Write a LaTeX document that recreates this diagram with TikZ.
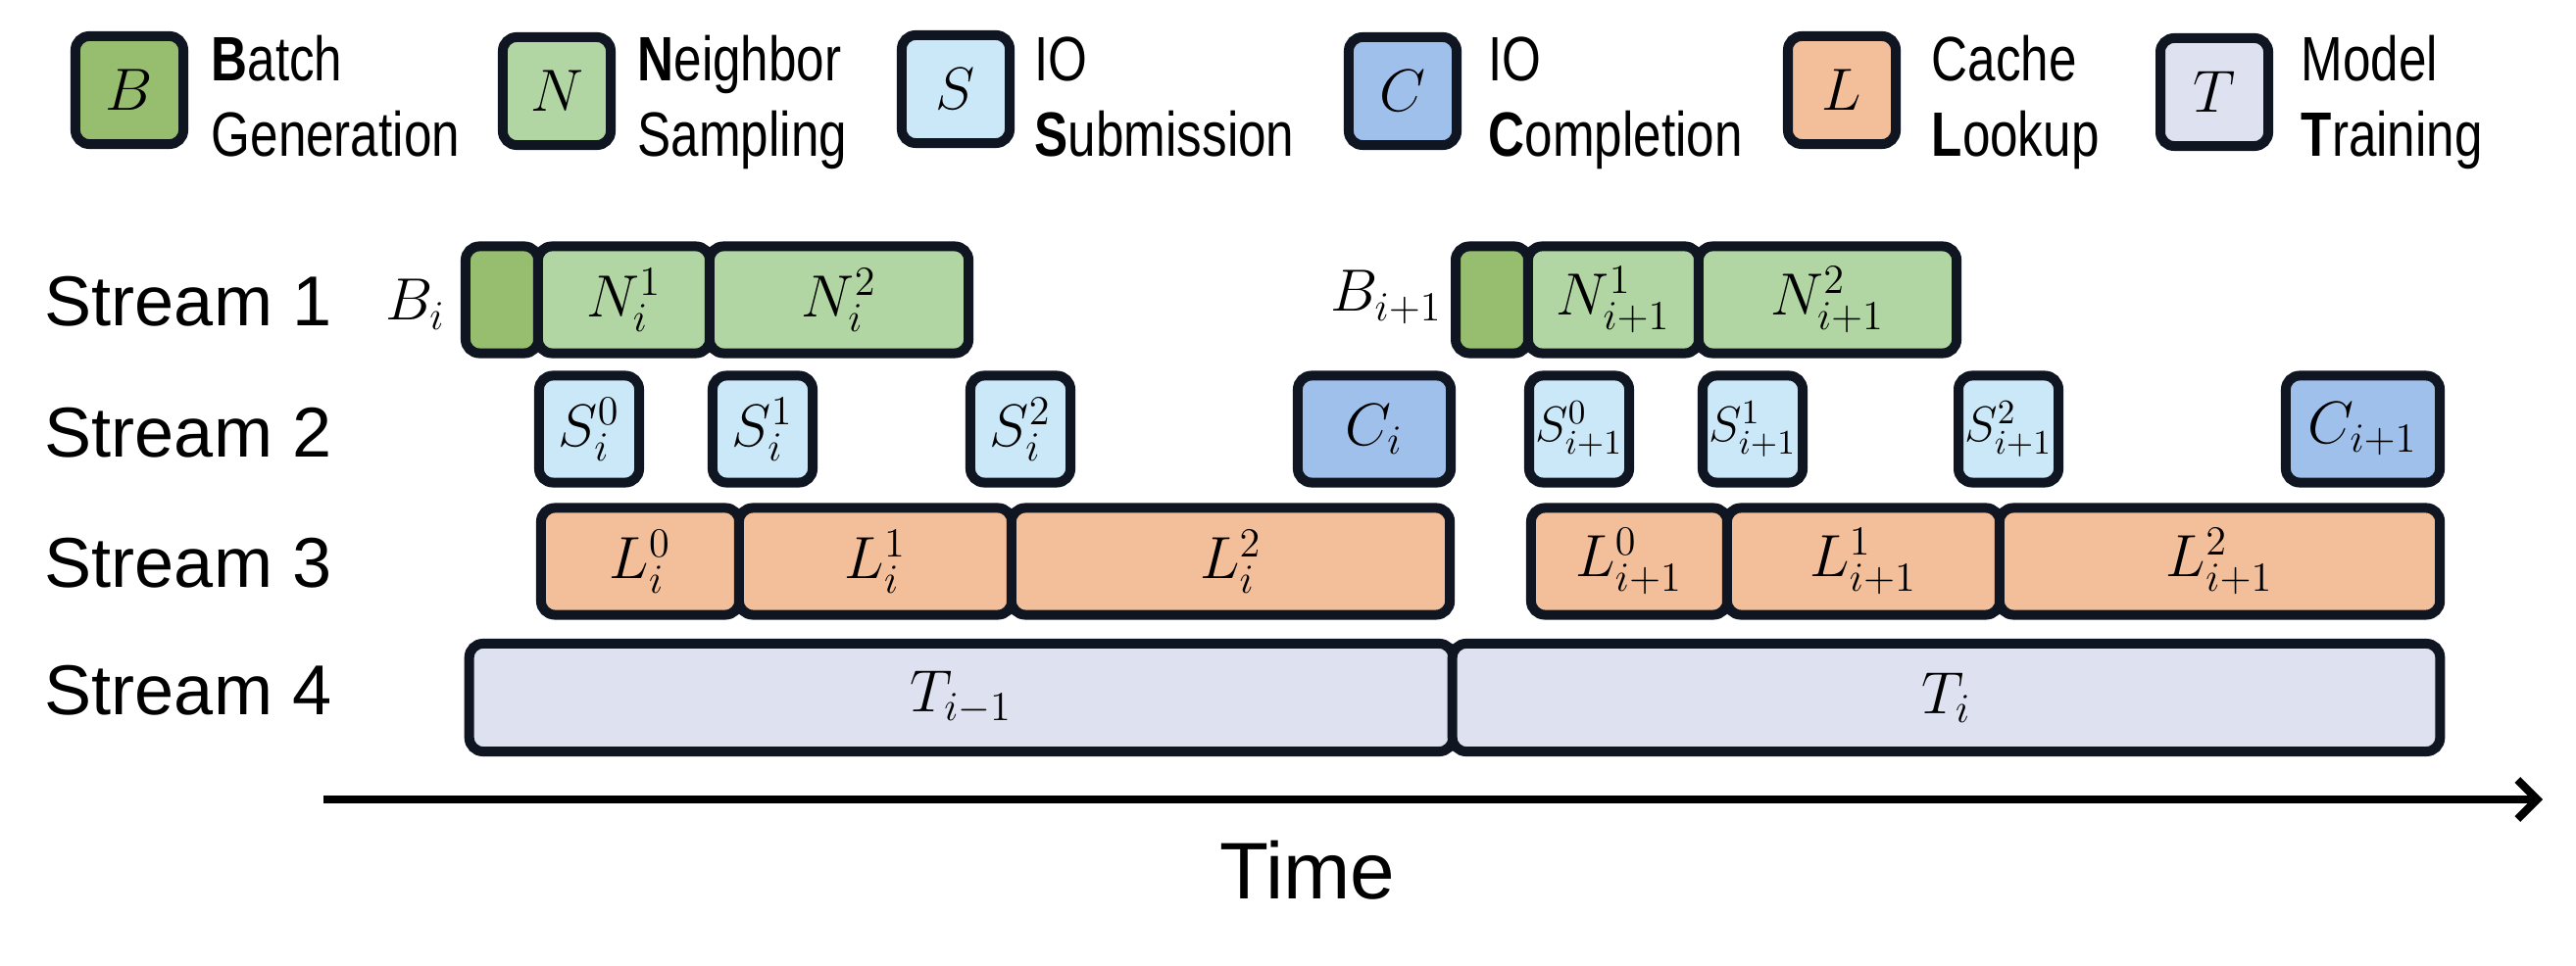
\documentclass[tikz,border=0pt]{standalone}
\usepackage{fontspec}
\setmainfont{Liberation Sans}
\newfontfamily\legendfont{Liberation Sans}[FakeStretch=0.8]
\usepackage{tikz}
\usetikzlibrary{arrows.meta}
\definecolor{edge}{RGB}{16,21,34}
\definecolor{bfill}{RGB}{151,189,110}
\definecolor{nfill}{RGB}{177,214,164}
\definecolor{sfill}{RGB}{203,232,249}
\definecolor{cfill}{RGB}{160,192,236}
\definecolor{lfill}{RGB}{243,190,154}
\definecolor{tfill}{RGB}{222,225,240}

\begin{document}
\begin{tikzpicture}[x=0.01cm,y=-0.01cm,
	task/.style={draw=edge,line width=0.1cm,rounded corners=0.14cm,inner sep=0pt,minimum height=1.09cm,font=\fontsize{17.6pt}{20pt}\selectfont},
	narrow/.style={task,fill=sfill,minimum width=1.02cm,font=\fontsize{13.8pt}{16pt}\selectfont},
	key/.style={task,minimum width=1.1cm,minimum height=1.1cm,font=\fontsize{16.5pt}{20pt}\selectfont},
	keytext/.style={anchor=base west,inner sep=0pt,font=\legendfont\fontsize{18.2pt}{22pt}\selectfont},
	stream/.style={anchor=base west,inner sep=0pt,font=\fontsize{20.5pt}{24pt}\selectfont},
	tag/.style={anchor=base east,inner sep=0pt,font=\fontsize{17.6pt}{20pt}\selectfont}]
	\useasboundingbox (0,0) rectangle (2628,986);

	\node[key,fill=bfill] at (132,92) (kb) {$B$};
	\node[keytext] at (215,83) (kb1) {\textbf{B}atch};
	\node[keytext] at (215,160) (kb2) {Generation};
	\node[key,fill=nfill] at (568,93) (kn) {$N$};
	\node[keytext] at (650,83) (kn1) {\textbf{N}eighbor};
	\node[keytext] at (650,160) (kn2) {Sampling};
	\node[key,fill=sfill] at (975,91) (ks) {$S$};
	\node[keytext] at (1055,83) (ks1) {IO};
	\node[keytext] at (1055,160) (ks2) {\textbf{S}ubmission};
	\node[key,fill=cfill] at (1431,93) (kc) {$C$};
	\node[keytext] at (1518,83) (kc1) {IO};
	\node[keytext] at (1518,160) (kc2) {\textbf{C}ompletion};
	\node[key,fill=lfill] at (1879,92) (kl) {$L$};
	\node[keytext] at (1970,83) (kl1) {Cache};
	\node[keytext] at (1970,160) (kl2) {\textbf{L}ookup};
	\node[key,fill=tfill] at (2259,94) (kt) {$T$};
	\node[keytext] at (2347,83) (kt1) {Model};
	\node[keytext] at (2347,160) (kt2) {\textbf{T}raining};

	\node[stream] at (45,333) (st1) {Stream 1};
	\node[stream] at (45,467) (st2) {Stream 2};
	\node[stream] at (45,600) (st3) {Stream 3};
	\node[stream] at (45,730) (st4) {Stream 4};

	\node[tag] at (455,327) (bilab) {$B_i$};
	\node[task,fill=bfill,minimum width=0.74cm] at (512,306) (bi) {};
	\node[task,fill=nfill,minimum width=1.75cm] at (636.5,306) (ni1) {$N_i^1$};
	\node[task,fill=nfill,minimum width=2.64cm] at (856,306) (ni2) {$N_i^2$};
	\node[tag] at (1472,318) (bjlab) {$B_{i+1}$};
	\node[task,fill=bfill,minimum width=0.74cm] at (1522,306) (bj) {};
	\node[task,fill=nfill,minimum width=1.74cm] at (1646,306) (nj1) {$N_{i+1}^1$};
	\node[task,fill=nfill,minimum width=2.63cm] at (1864.5,306) (nj2) {$N_{i+1}^2$};

	\node[task,fill=sfill,minimum width=1.02cm] at (601,438) (si0) {$S_i^0$};
	\node[task,fill=sfill,minimum width=1.02cm] at (778,438) (si1) {$S_i^1$};
	\node[task,fill=sfill,minimum width=1.02cm] at (1041,438) (si2) {$S_i^2$};
	\node[task,fill=cfill,minimum width=1.56cm] at (1402,438) (ci) {$C_i$};
	\node[narrow] at (1611,438) (sj0) {$S_{i+1}^0$};
	\node[narrow] at (1788,438) (sj1) {$S_{i+1}^1$};
	\node[narrow] at (2049,438) (sj2) {$S_{i+1}^2$};
	\node[task,fill=cfill,minimum width=1.57cm] at (2410.5,438) (cj) {$C_{i+1}$};

	\node[task,fill=lfill,minimum width=2.02cm] at (653,573) (li0) {$L_i^0$};
	\node[task,fill=lfill,minimum width=2.78cm] at (893,573) (li1) {$L_i^1$};
	\node[task,fill=lfill,minimum width=4.47cm] at (1255.5,573) (li2) {$L_i^2$};
	\node[task,fill=lfill,minimum width=2.00cm] at (1662,573) (lj0) {$L_{i+1}^0$};
	\node[task,fill=lfill,minimum width=2.78cm] at (1901,573) (lj1) {$L_{i+1}^1$};
	\node[task,fill=lfill,minimum width=4.49cm] at (2264.5,573) (lj2) {$L_{i+1}^2$};

	\node[task,fill=tfill,minimum width=10.03cm,minimum height=1.10cm] at (980.5,712) (ti0) {$T_{i-1}$};
	\node[task,fill=tfill,minimum width=10.07cm,minimum height=1.10cm] at (1985.5,712) (ti1) {$T_i$};

	\coordinate (tstart) at (330,816);
	\coordinate (tend) at (2594,816);
	\draw[line width=0.08cm,-{Straight Barb[length=0.2cm,width=0.4cm]}] (tstart) -- (tend);
	\node[anchor=base,inner sep=0pt,font=\fontsize{23.3pt}{28pt}\selectfont] at (1334,917) (time) {Time};
\end{tikzpicture}
\end{document}
